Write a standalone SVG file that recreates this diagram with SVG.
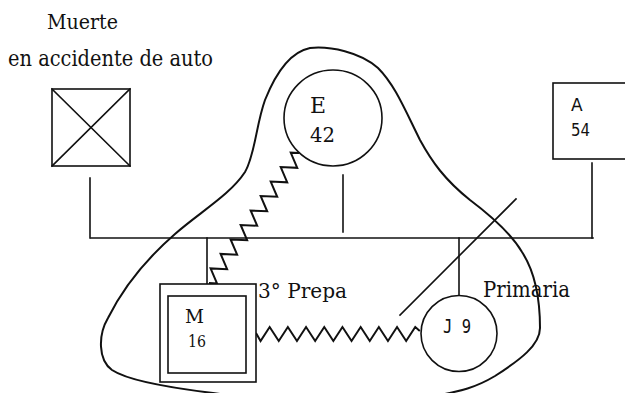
<svg xmlns="http://www.w3.org/2000/svg" width="625" height="393" viewBox="0 0 625 393">
<style>
.ln{fill:none;stroke:#111;stroke-width:1.6;stroke-linecap:square}
.zz{fill:none;stroke:#111;stroke-width:2;stroke-linejoin:miter}
.sh{fill:#fff;stroke:#111;stroke-width:1.6}
</style>
<rect width="625" height="393" fill="#fff"/>
<g id="labels" font-family="'DejaVu Serif', serif" fill="#111">
<text x="47" y="29" font-size="21" textLength="71" lengthAdjust="spacingAndGlyphs">Muerte</text>
<text x="8" y="66" font-size="22" textLength="205" lengthAdjust="spacingAndGlyphs">en accidente de auto</text>
</g>
<g id="boundary">
<path d="M310,48 C330,46 360,52 378,68 C395,85 405,110 420,140 C432,162 445,180 470,200 C490,215 510,232 522,252 C535,272 540,300 540,328 C540,345 520,360 495,376 C475,388 460,391 440,395 C380,410 260,400 213,393 C180,389 130,382 112,370 C98,360 98,335 108,318 C122,290 145,260 175,234 C200,212 230,195 245,172 C255,155 256,125 265,100 C275,75 290,52 310,48 Z" fill="none" stroke="#111" stroke-width="2"/>
</g>
<g id="connectors">
<path class="ln" d="M91,238 H593"/>
<path class="ln" d="M90,178 V238"/>
<path class="ln" d="M343,175 V232"/>
<path class="ln" d="M592,163 V238" stroke-width="1.2"/>
<path class="ln" d="M207,238 V296"/>
<path class="ln" d="M459,238 V295"/>
<path class="ln" d="M400,315 L516,199"/>
<path class="zz" transform="translate(299,153) rotate(124.7)" d="M0,0 l4.4,7 l8.8,-14 l8.8,14 l8.8,-14 l8.8,14 l8.8,-14 l8.8,14 l8.8,-14 l8.8,14 l8.8,-14 l8.8,14 l8.8,-14 l8.8,14 l8.8,-14 l8.8,14 l8.8,-14 l8.8,14 l8.8,-14 l4.2,7"/>
<path class="zz" d="M256,333 l4.55,8 l9.1,-14 l9.1,14 l9.1,-14 l9.1,14 l9.1,-14 l9.1,14 l9.1,-14 l9.1,14 l9.1,-14 l9.1,14 l9.1,-14 l9.1,14 l9.1,-14 l9.1,14 l9.1,-14 l9.1,14 l9.1,-14 l4.55,4"/>
</g>
<g id="node-deceased">
<rect class="sh" x="52" y="89" width="78" height="77"/>
<path class="ln" d="M52,89 L130,166 M130,89 L52,166"/>
</g>
<g id="node-E" font-family="'DejaVu Serif', serif" fill="#111">
<ellipse class="sh" cx="333" cy="118" rx="49" ry="48"/>
<text x="310" y="113" font-size="22">E</text>
<text x="310" y="142" font-size="21" textLength="25" lengthAdjust="spacingAndGlyphs">42</text>
</g>
<g id="node-A" font-family="'DejaVu Sans', sans-serif" fill="#111">
<rect class="sh" x="553" y="83" width="90" height="76"/>
<text x="571" y="111" font-size="17">A</text>
<text x="571" y="136" font-size="17" textLength="19" lengthAdjust="spacingAndGlyphs">54</text>
</g>
<g id="node-M" font-family="'DejaVu Serif', serif" fill="#111">
<rect class="sh" x="160" y="284" width="96" height="98"/>
<rect class="sh" x="168" y="296" width="78" height="77"/>
<text x="185" y="323" font-size="18" textLength="19" lengthAdjust="spacingAndGlyphs">M</text>
<text x="188" y="347" font-size="17" textLength="18" lengthAdjust="spacingAndGlyphs">16</text>
<text x="258" y="298" font-size="20" textLength="89" lengthAdjust="spacingAndGlyphs">3° Prepa</text>
</g>
<g id="node-J" fill="#111">
<circle class="sh" cx="459" cy="333.5" r="38"/>
<text x="443" y="333" font-family="'DejaVu Sans Mono', monospace" font-size="20" textLength="28" lengthAdjust="spacingAndGlyphs">J 9</text>
<text x="483" y="297" font-family="'DejaVu Serif', serif" font-size="22" textLength="87" lengthAdjust="spacingAndGlyphs">Primaria</text>
</g>
</svg>
